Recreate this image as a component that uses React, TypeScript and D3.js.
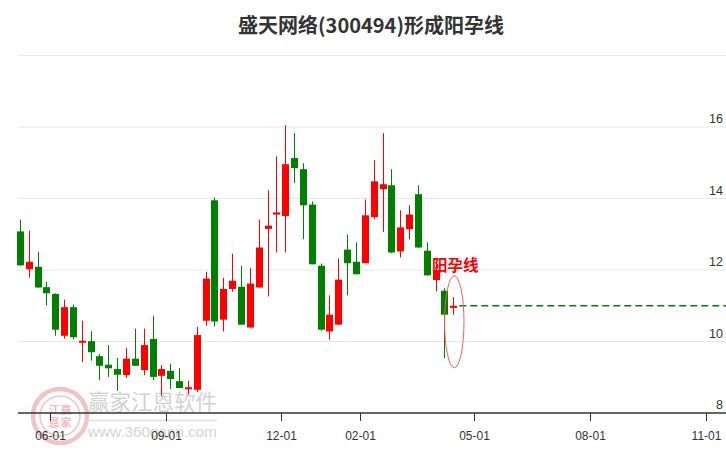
import React from "react";
import * as d3 from "d3";

const title = "盛天网络(300494)形成阳孕线";
const patternLabel = "阳孕线";

const dates = [
  "2023-05-08", "2023-05-15", "2023-05-22", "2023-05-29", "2023-06-05", "2023-06-12", "2023-06-19", "2023-06-26",
  "2023-07-03", "2023-07-10", "2023-07-17", "2023-07-24", "2023-07-31", "2023-08-07", "2023-08-14", "2023-08-21",
  "2023-08-28", "2023-09-04", "2023-09-11", "2023-09-18", "2023-09-25", "2023-10-02", "2023-10-09", "2023-10-16",
  "2023-10-23", "2023-10-30", "2023-11-06", "2023-11-13", "2023-11-20", "2023-11-27", "2023-12-04", "2023-12-11",
  "2023-12-18", "2023-12-25", "2024-01-01", "2024-01-08", "2024-01-15", "2024-01-22", "2024-01-29", "2024-02-05",
  "2024-02-12", "2024-02-19", "2024-02-26", "2024-03-04", "2024-03-11", "2024-03-18", "2024-03-25", "2024-04-01",
  "2024-04-08", "2024-04-15",
];

const opens = [
  13.08, 12.02, 12.09, 11.52, 11.33, 10.16, 10.96, 9.99, 10.01, 9.59,
  9.35, 9.23, 9.06, 9.52, 9.2, 10.07, 9.04, 9.18, 8.89, 8.67,
  8.65, 10.58, 13.95, 10.61, 11.47, 11.53, 10.39, 11.51, 13.15, 13.55,
  13.51, 15.13, 14.82, 13.83, 12.12, 10.28, 10.47, 12.57, 12.23, 12.19,
  13.48, 14.26, 14.37, 12.52, 13.14, 14.12, 12.54, 11.72, 11.42, 10.94,
];
const highs = [
  13.41, 13.1, 12.51, 11.67, 11.35, 11.17, 11.03, 10.58, 10.29, 9.65,
  9.9, 9.54, 9.82, 10.36, 10.36, 10.72, 9.34, 9.38, 9.26, 8.9,
  10.41, 11.95, 14.03, 11.78, 12.46, 12.12, 12.06, 13.41, 14.23, 15.18,
  16.05, 15.83, 14.99, 13.92, 12.18, 11.29, 12.32, 12.99, 12.77, 13.97,
  15.07, 15.83, 14.82, 13.67, 13.81, 14.37, 12.77, 12.15, 11.49, 11.24,
];
const lows = [
  12.12, 11.79, 11.5, 11.0, 10.16, 10.08, 10.06, 9.42, 9.46, 8.92,
  9.01, 8.62, 8.98, 9.32, 9.06, 8.92, 8.48, 8.67, 8.7, 8.52,
  8.59, 10.44, 10.42, 10.28, 11.39, 10.47, 10.39, 11.51, 11.26, 12.49,
  12.49, 14.43, 12.86, 12.16, 10.3, 10.05, 10.47, 11.29, 11.88, 12.19,
  13.42, 13.06, 12.47, 12.35, 12.86, 12.61, 11.85, 11.4, 9.53, 10.75,
];
const closes = [
  12.13, 12.23, 11.51, 11.35, 10.33, 10.96, 10.12, 10.02, 9.7, 9.32,
  9.25, 9.07, 9.52, 9.32, 9.9, 9.01, 9.23, 8.95, 8.7, 8.72,
  10.18, 11.76, 10.56, 11.47, 11.7, 10.47, 11.62, 12.63, 13.24, 13.61,
  14.96, 14.85, 13.81, 12.16, 10.33, 10.75, 11.73, 12.19, 11.88, 13.53,
  14.48, 14.4, 12.49, 13.19, 13.55, 12.63, 11.85, 12.0, 10.75, 11.0,
];

const yTicks = [8, 10, 12, 14, 16];
const yGrid = [10, 12, 14, 16, 18];
const xTickDates = ["2023-06-01", "2023-09-01", "2023-12-01", "2024-02-01", "2024-05-01", "2024-08-01", "2024-11-01"];
const xTickLabels = ["06-01", "09-01", "12-01", "02-01", "05-01", "08-01", "11-01"];

const W = 726;
const H = 450;
const left = 18;
const right = 726;
const top = 55.5;
const bottom = 413;

const parse = (s: string) => {
  const [y, m, d] = s.split("-").map(Number);
  return new Date(y, m - 1, d);
};

export default function App() {
  const x = d3
    .scaleTime()
    .domain([new Date(2023, 4, 6, 12), new Date(2024, 10, 16, 20)])
    .range([left, right]);
  const y = d3.scaleLinear().domain([8, 18]).range([bottom, top]);

  const candles = dates.map((d, i) => ({
    date: parse(d),
    o: opens[i],
    h: highs[i],
    l: lows[i],
    c: closes[i],
  }));
  const last = candles[candles.length - 1];
  const lastX = x(last.date);
  const bw = 7;

  return (
    <svg width={W} height={H} style={{ position: "absolute", left: 0, top: 0, background: "#fff" }}>
      {/* watermark */}
      <g>
        <circle cx={60} cy={416} r={27} fill="none" stroke="#f0c4c4" strokeWidth={4.5} />
        <circle cx={60} cy={416} r={20} fill="none" stroke="#f0c4c4" strokeWidth={1.5} />
        <g fontFamily="Noto Sans CJK SC" fontSize={11} fill="#efbcbc" fontWeight="bold" textAnchor="middle">
          <text x={54} y={414}>江</text>
          <text x={66} y={414}>赢</text>
          <text x={54} y={427}>恩</text>
          <text x={66} y={427}>家</text>
        </g>
        <text x={88} y={410} fontFamily="Noto Sans CJK SC" fontSize={21.5} fill="#d2d2d2">赢家江恩软件</text>
        <line x1={88} x2={217} y1={420.5} y2={420.5} stroke="#e2e2e2" strokeWidth={2} />
        <text x={88} y={437} fontFamily="Liberation Sans, Arial" fontSize={15.5} fill="#d4d4d4" textLength={129}>www.360gann.com</text>
      </g>

      {/* grid */}
      {yGrid.map((v) => (
        <line key={v} x1={left} x2={right} y1={y(v)} y2={y(v)} stroke="#e6e6e6" strokeWidth={1} />
      ))}
      {yTicks.map((v) => (
        <text key={v} x={723} y={y(v) - 4} textAnchor="end" fontFamily="Liberation Sans, Arial" fontSize={12.5} fill="#333">
          {v}
        </text>
      ))}

      {/* title */}
      <text x={371} y={33} textAnchor="middle" fontFamily="Noto Sans CJK SC" fontWeight="bold" fontSize={20} fill="#333">
        {title}
      </text>

      {/* candles */}
      {candles.map((k, i) => {
        const cx = Math.round(x(k.date)) + 0.5;
        const up = k.c >= k.o;
        const col = up ? "#ff0000" : "#008000";
        const yt = y(Math.max(k.o, k.c));
        const yb = y(Math.min(k.o, k.c));
        const hgt = Math.max(2, yb - yt);
        return (
          <g key={i}>
            <line x1={cx} x2={cx} y1={y(k.h)} y2={y(k.l)} stroke={col} strokeWidth={1} />
            <rect x={cx - bw / 2} y={yt} width={bw} height={hgt} fill={col} />
          </g>
        );
      })}

      {/* projection line */}
      <line x1={lastX + 6} x2={right} y1={y(last.c)} y2={y(last.c)} stroke="#008000" strokeWidth={1.3} strokeDasharray="7,4" />

      {/* pattern marker */}
      <ellipse cx={lastX + 1} cy={y(10.55)} rx={9.7} ry={46} fill="none" stroke="#ff5a5a" strokeWidth={1} />
      <text x={432} y={271} fontFamily="Noto Sans CJK SC" fontWeight="bold" fontSize={15.5} fill="#ff0000">
        {patternLabel}
      </text>

      {/* x axis */}
      <line x1={left} x2={right} y1={bottom} y2={bottom} stroke="#333" strokeWidth={1.5} />
      {xTickDates.map((d, i) => {
        const tx = Math.round(x(parse(d))) + 0.5;
        return (
          <g key={d}>
            <line x1={tx} x2={tx} y1={bottom} y2={bottom + 8} stroke="#333" strokeWidth={1} />
            <text x={tx} y={440} textAnchor="middle" fontFamily="Liberation Sans, Arial" fontSize={12} fill="#333">
              {xTickLabels[i]}
            </text>
          </g>
        );
      })}
    </svg>
  );
}
